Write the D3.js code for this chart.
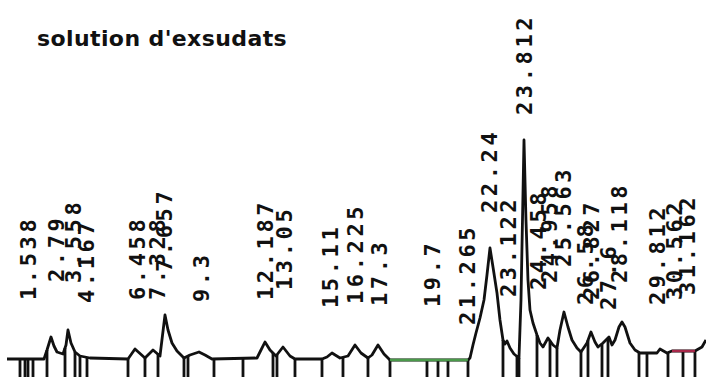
<!DOCTYPE html>
<html><head><meta charset="utf-8">
<script src="https://cdn.jsdelivr.net/npm/d3@7"></script>
<style>html,body{margin:0;padding:0;background:#fff;} svg{display:block}</style>
</head><body>
<svg id="c" width="706" height="386"></svg>
<script>
const title = "solution d'exsudats";
const traceTime = [0.584,2.246,2.381,2.561,2.695,2.830,3.100,3.235,3.324,3.459,3.639,3.863,4.313,6.020,6.334,6.783,7.143,7.457,7.682,7.817,7.996,8.221,8.535,8.805,9.209,9.479,9.793,11.815,11.995,12.174,12.399,12.668,12.983,13.297,13.522,14.735,14.960,15.184,15.544,15.903,16.218,16.487,16.801,16.981,17.251,17.520,17.790,21.294,21.384,21.518,21.653,21.833,22.013,22.147,22.282,22.417,22.597,22.731,22.866,22.956,23.046,23.181,23.360,23.585,23.675,23.810,23.899,23.989,24.079,24.214,24.394,24.528,24.663,24.888,25.112,25.292,25.427,25.606,25.786,25.966,26.190,26.370,26.640,26.819,26.999,27.134,27.358,27.628,27.763,27.898,28.077,28.212,28.347,28.571,28.796,29.021,29.784,29.919,30.234,30.458,31.491,31.806,31.986];
const traceSignal = [0,0,9,22,13,7,5,14,29,16,7,3,1,0,10,1,9,3,44,29,16,8,1,4,7,4,0,1,9,17,9,3,12,3,0,0,2,6,1,3,14,6,1,4,14,5,-1,-1,1,14,26,41,59,84,111,92,66,39,19,15,18,11,5,1,59,219,139,79,49,36,24,16,12,21,14,11,29,47,32,19,11,7,16,27,17,12,16,22,14,19,32,37,32,16,9,6,6,10,6,8,8,12,19];
const peakLabels = ["1.538","2.79","3.558","4.167","6.458","7.328","7.657","9.3","12.187","13.05","15.11","16.225","17.3","19.7","21.265","22.24","23.122","23.812","24.458","24.958","25.563","26.58","26.827","27.6","28.118","29.812","30.562","31.162"];
const labelLevels = [59,77,76,56,59,59,87,57,59,69,51,55,53,52,34,146,62,244,69,76,92,54,59,49,76,54,59,64];
const eventTimes = [1.168,1.393,1.527,1.752,2.381,3.190,3.639,3.863,4.178,6.020,6.783,7.367,8.535,8.715,9.883,11.186,12.534,12.713,13.522,14.735,15.678,16.801,17.790,19.452,19.946,20.395,21.294,22.866,23.495,23.585,24.394,24.978,25.292,26.370,26.685,27.314,27.583,28.976,29.335,30.279,30.953,31.491];
const greenSpan = [17.79, 21.29];
const redSpan = [30.46, 31.49];

const svg = d3.select("#c");
const x = d3.scaleLinear().domain([0, 32]).range([-6, 706.3]);
const y = d3.scaleLinear().domain([0, 220]).range([359, 139]);

const pts = traceTime.map((t, i) => ({t, v: traceSignal[i]}));
const bis = d3.bisector(d => d.t).left;
function signalAt(t) {
  const i = Math.max(1, Math.min(pts.length - 1, bis(pts, t)));
  const a = pts[i - 1], b = pts[i];
  const f = (t - a.t) / (b.t - a.t);
  return a.v + (b.v - a.v) * Math.max(0, Math.min(1, f));
}

svg.append("text")
  .attr("x", 37).attr("y", 46)
  .attr("font-family", "DejaVu Sans, sans-serif")
  .attr("font-weight", "bold")
  .attr("font-size", 22)
  .attr("letter-spacing", 0.4)
  .attr("fill", "#111")
  .text(title);

const line = d3.line().x(d => x(d.t)).y(d => y(d.v));

svg.append("g").selectAll("line").data(eventTimes).join("line")
  .attr("x1", d => x(d)).attr("x2", d => x(d))
  .attr("y1", d => y(signalAt(d))).attr("y2", y(-18))
  .attr("stroke", "#111").attr("stroke-width", 2.8);

svg.append("path").datum(pts)
  .attr("d", line)
  .attr("fill", "none").attr("stroke", "#111")
  .attr("stroke-width", 2.8).attr("stroke-linejoin", "round");

function span(s, color) {
  const seg = pts.filter(d => d.t >= s[0] && d.t <= s[1]);
  seg.unshift({t: s[0], v: signalAt(s[0])});
  seg.push({t: s[1], v: signalAt(s[1])});
  svg.append("path").datum(seg).attr("d", line)
    .attr("fill", "none").attr("stroke", color).attr("stroke-width", 2.4);
}
span(greenSpan, "#4a9a4a");
span(redSpan, "#a8284a");

svg.append("g").selectAll("text").data(peakLabels).join("text")
  .attr("transform", (d, i) => `translate(${x(parseFloat(d))},${y(labelLevels[i])}) rotate(-90)`)
  .attr("text-anchor", "start")
  .attr("dominant-baseline", "central")
  .attr("font-family", "DejaVu Sans Mono, monospace")
  .attr("font-weight", "bold")
  .attr("font-size", 22)
  .attr("letter-spacing", 3.6)
  .attr("fill", "#111")
  .text(d => d);
</script>
</body></html>
